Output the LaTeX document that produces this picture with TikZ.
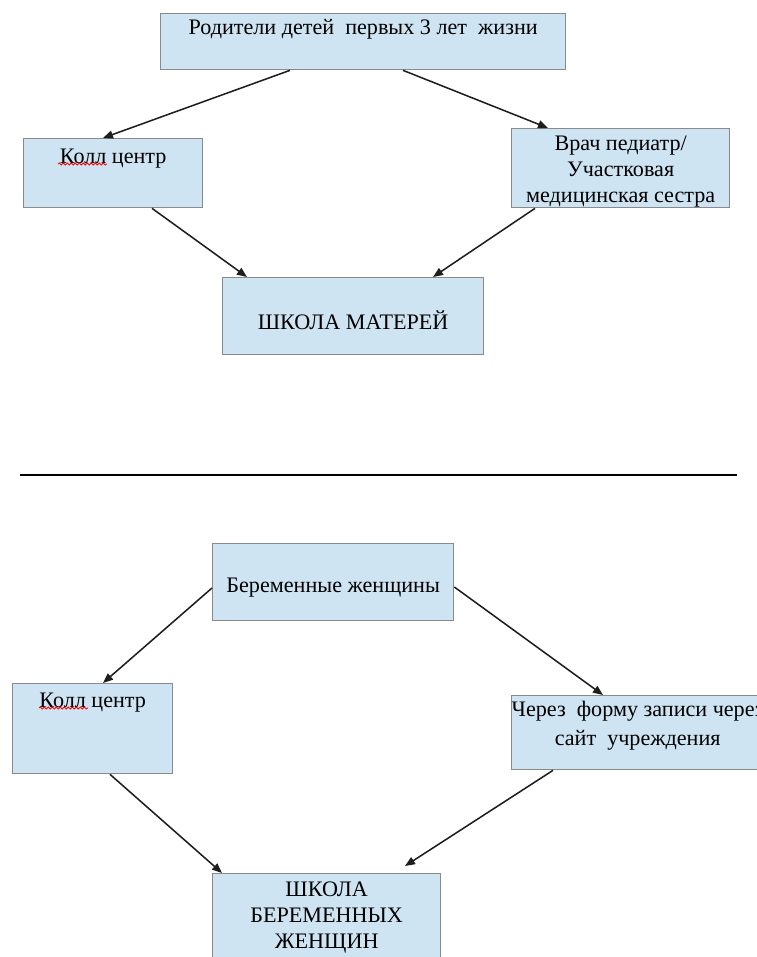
\documentclass[tikz,border=0pt]{standalone}
\usepackage{fontspec}
\setmainfont{Liberation Serif}
\usetikzlibrary{arrows.meta,calc,decorations.pathmorphing}
\definecolor{boxfill}{HTML}{CFE4F3}
\definecolor{boxline}{HTML}{8A8A8A}
\definecolor{arrcol}{HTML}{1E1E1E}
\newlength\pxu
\setlength\pxu{0.75pt}
\newcommand\bxt[4]{\parbox[c][#2\pxu][t]{#1\pxu}{\centering\vspace*{#3\pxu}#4\par}}
\newcommand\ctrline[1]{\hbox to\linewidth{\hss\strut #1\hss}}
\begin{document}
\begin{tikzpicture}[x=0.75pt,y=-0.75pt,
  box/.style={draw=boxline, fill=boxfill, line width=1pt, inner sep=0pt, anchor=north west,
    font=\fontsize{16.6}{19.5}\selectfont},
  arr/.style={draw=arrcol, line width=1.15pt, -{Triangle[length=7.5pt,width=6pt]}},
  wavy/.style={draw=red, line width=0.6pt, decorate, decoration={snake, amplitude=0.8pt, segment length=3pt}}]
\useasboundingbox (0,0) rectangle (757,957);
\clip (0,0) rectangle (757,957);
\node[box] (parents) at (160,13) {\bxt{405}{56}{3}{\strut Родители детей\ \ первых 3 лет\ \ жизни}};
\node[box] (koll1) at (23,138) {\bxt{179}{69}{7}{\strut Колл центр}};
\node[box] (vrach) at (511,128) {\bxt{218}{79}{4}{\strut Врач педиатр/\\Участковая\\медицинская сестра}};
\node[box] (school1) at (222,277) {\bxt{261}{77}{33}{\strut ШКОЛА МАТЕРЕЙ}};
\coordinate (hl) at (20,475);
\coordinate (hr) at (737,475);
\draw[line width=1.1pt] (hl) -- (hr);
\node[box] (preg) at (212,543) {\bxt{241}{77}{31}{\strut Беременные женщины}};
\node[box] (koll2) at (12,683) {\bxt{160}{90}{6}{\strut Колл центр}};
\node[box] (site) at (511,695) {\bxt{252}{74}{3}{\ctrline{Через\ \ форму записи через}\vspace{2pt}\ctrline{сайт\ \ учреждения}}};
\node[box] (school2) at (212,873) {\bxt{228}{110}{5}{\strut ШКОЛА\\БЕРЕМЕННЫХ\\ЖЕНЩИН}};
\draw[wavy] ($(koll1.north west)+(35,26)$) -- ($(koll1.north west)+(84,26)$);
\draw[wavy] ($(koll2.north west)+(27,25)$) -- ($(koll2.north west)+(76,25)$);
\draw[arr] ($(parents.south west)+(130,0)$) -- ($(koll1.north west)+(80,0)$);
\draw[arr] ($(parents.south west)+(243,0)$) -- ($(vrach.north west)+(37,0)$);
\draw[arr] ($(koll1.south west)+(129,0)$) -- ($(school1.north west)+(25,0)$);
\draw[arr] ($(vrach.south west)+(24,0)$) -- ($(school1.north west)+(211,0)$);
\draw[arr] ($(preg.north west)+(0,45)$) -- ($(koll2.north west)+(91,0)$);
\draw[arr] ($(preg.north east)+(0,44)$) -- ($(site.north west)+(92,0)$);
\draw[arr] ($(koll2.south west)+(98,0)$) -- ($(school2.north west)+(10,0)$);
\draw[arr] ($(site.south west)+(42,0)$) -- ($(school2.north west)+(193,-7)$);
\end{tikzpicture}
\end{document}
